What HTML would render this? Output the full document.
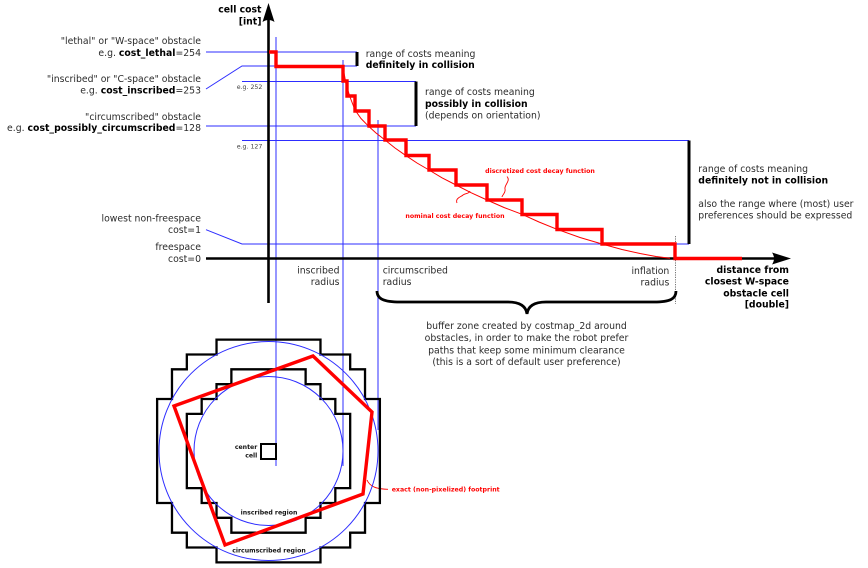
<!DOCTYPE html>
<html><head><meta charset="utf-8"><style>html,body{margin:0;padding:0;background:#fff}svg{display:block}</style></head>
<body>
<svg width="868" height="568" viewBox="0 0 868 568" xmlns="http://www.w3.org/2000/svg" font-family="'DejaVu Sans', 'Liberation Sans', sans-serif">
<rect width="868" height="568" fill="#fff"/>

<!-- blue guide lines -->
<g stroke="#2d2dff" stroke-width="1" fill="none">
  <path d="M206,52 H357"/>
  <path d="M206,89 L242,66 H357"/>
  <path d="M242,81.5 H416"/>
  <path d="M206,126 H416"/>
  <path d="M242,140.5 H689"/>
  <path d="M206,229.7 L242,244 H689"/>
  <path d="M276,37 V466"/>
  <path d="M343,60 V466"/>
  <path d="M378,120 V430"/>
</g>

<!-- brackets -->
<g stroke="#000" stroke-width="3" fill="none">
  <path d="M357,52 V66"/>
  <path d="M416,81.5 V126"/>
  <path d="M689,140.5 V244"/>
</g>

<!-- axes -->
<path d="M268.5,303 V18" stroke="#000" stroke-width="2.6" fill="none"/>
<path d="M268.5,3 L274.5,22 Q268.5,18 262.5,22 Z" fill="#000"/>
<path d="M206,258.5 H776" stroke="#000" stroke-width="2.6" fill="none"/>
<path d="M791,258.5 L772,252.5 Q776,258.5 772,264.5 Z" fill="#000"/>

<!-- dotted inflation line -->
<path d="M675.5,236 V304" stroke="#777" stroke-width="1" stroke-dasharray="1.2,1.2" fill="none"/>

<!-- nominal curve -->
<polyline points="343.5,70 346,84 350,97 355,110 361,118.5 368,125.7 376,133 385,140 395,148 406,155.7 417,163 429,170 442,177.8 456,185 471,192.7 487,200 504,207.5 522,214.3 539,222 557,229.3 580,237.5 602,244 622,249.5 640,253.5 656,256.5 670,258.3" fill="none" stroke="#ff0000" stroke-width="1"/>

<!-- discretized staircase -->
<path d="M269,52 H276 V66.5 H343 V81 H347 V96 H355 V111 H369 V126 H385 V140 H406 V155.5 H429 V170 H456 V185 H487 V200 H522 V214.5 H557 V229.5 H602 V244 H675 V258.5 H742" fill="none" stroke="#ff0000" stroke-width="3.4" stroke-linejoin="miter"/>

<!-- red leaders -->
<g stroke="#ff0000" stroke-width="0.9" fill="none">
  <path d="M507,176.5 C511,181 504,185 505,189 C506,193 502,195 502,197"/>
  <path d="M457,203 C455,198 461,197 463,195 C466,193 469,194 470,191"/>
  <path d="M367,480 C370,487 377,489 388,489.3"/>
</g>

<!-- brace -->
<path d="M377,291 C377,299 384,302 400,302 L508,302 C520,302 526,306 527,314 C528,306 534,302 546,302 L654,302 C670,302 676,299 676,291" fill="none" stroke="#000" stroke-width="2.8"/>

<!-- footprint diagram -->
<g transform="translate(268.5,451) scale(14.85)">
  <polygon points="-3.5,-7.5 3.5,-7.5 3.5,-6.5 5.5,-6.5 5.5,-5.5 6.5,-5.5 6.5,-3.5 7.5,-3.5 7.5,3.5 6.5,3.5 6.5,5.5 5.5,5.5 5.5,6.5 3.5,6.5 3.5,7.5 -3.5,7.5 -3.5,6.5 -5.5,6.5 -5.5,5.5 -6.5,5.5 -6.5,3.5 -7.5,3.5 -7.5,-3.5 -6.5,-3.5 -6.5,-5.5 -5.5,-5.5 -5.5,-6.5 -3.5,-6.5" fill="none" stroke="#000" stroke-width="2.3" vector-effect="non-scaling-stroke"/>
  <polygon points="-2.5,-5.5 2.5,-5.5 2.5,-4.5 3.5,-4.5 3.5,-3.5 4.5,-3.5 4.5,-2.5 5.5,-2.5 5.5,2.5 4.5,2.5 4.5,3.5 3.5,3.5 3.5,4.5 2.5,4.5 2.5,5.5 -2.5,5.5 -2.5,4.5 -3.5,4.5 -3.5,3.5 -4.5,3.5 -4.5,2.5 -5.5,2.5 -5.5,-2.5 -4.5,-2.5 -4.5,-3.5 -3.5,-3.5 -3.5,-4.5 -2.5,-4.5" fill="none" stroke="#000" stroke-width="2.3" vector-effect="non-scaling-stroke"/>
</g>
<rect x="261" y="444" width="15" height="15" fill="none" stroke="#000" stroke-width="2"/>
<circle cx="268.5" cy="451" r="74.5" fill="none" stroke="#2d2dff" stroke-width="1"/>
<circle cx="268.5" cy="451" r="109.5" fill="none" stroke="#2d2dff" stroke-width="1"/>
<polygon points="174,406 313,356 372,412 363,494 225,545" fill="none" stroke="#ff0000" stroke-width="3.4" stroke-linejoin="miter"/>

<!-- texts -->
<g font-size="9.3" fill="#2b2b2b">
  <text x="261.5" y="12.5" text-anchor="end" font-weight="bold" fill="#000">cell cost</text>
  <text x="261.5" y="24.5" text-anchor="end" font-weight="bold" fill="#000">[int]</text>

  <text x="201" y="44.2" text-anchor="end">"lethal" or "W-space" obstacle</text>
  <text x="201" y="55.8" text-anchor="end">e.g. <tspan font-weight="bold" fill="#000">cost_lethal</tspan>=254</text>
  <text x="201" y="82.2" text-anchor="end">"inscribed" or "C-space" obstacle</text>
  <text x="201" y="93.5" text-anchor="end">e.g. <tspan font-weight="bold" fill="#000">cost_inscribed</tspan>=253</text>
  <text x="201" y="120.2" text-anchor="end">"circumscribed" obstacle</text>
  <text x="201" y="130.8" text-anchor="end">e.g. <tspan font-weight="bold" fill="#000">cost_possibly_circumscribed</tspan>=128</text>
  <text x="201" y="221.5" text-anchor="end">lowest non-freespace</text>
  <text x="201" y="232.8" text-anchor="end">cost=1</text>
  <text x="201" y="250.2" text-anchor="end">freespace</text>
  <text x="201" y="261.8" text-anchor="end">cost=0</text>

  <text x="365.7" y="56.8">range of costs meaning</text>
  <text x="365.7" y="67.8" font-weight="bold" fill="#000">definitely in collision</text>

  <text x="425" y="95.2">range of costs meaning</text>
  <text x="425" y="106.8" font-weight="bold" fill="#000">possibly in collision</text>
  <text x="425" y="118.5">(depends on orientation)</text>

  <text x="698.3" y="171.8">range of costs meaning</text>
  <text x="698.3" y="183.5" font-weight="bold" fill="#000">definitely not in collision</text>
  <text x="698.3" y="206.8">also the range where (most) user</text>
  <text x="698.3" y="218.5">preferences should be expressed</text>

  <text x="339.5" y="273.5" text-anchor="end">inscribed</text>
  <text x="339.5" y="285.2" text-anchor="end">radius</text>
  <text x="382.7" y="273.5">circumscribed</text>
  <text x="382.7" y="285.2">radius</text>
  <text x="669.3" y="274" text-anchor="end">inflation</text>
  <text x="669.3" y="285.4" text-anchor="end">radius</text>

  <g font-weight="bold" fill="#000" text-anchor="end">
    <text x="789" y="272.8">distance from</text>
    <text x="789" y="284.6">closest W-space</text>
    <text x="789" y="296.4">obstacle cell</text>
    <text x="789" y="307.6">[double]</text>
  </g>

  <g text-anchor="middle">
    <text x="526.5" y="329.2">buffer zone created by costmap_2d around</text>
    <text x="526.5" y="341.2">obstacles, in order to make the robot prefer</text>
    <text x="526.5" y="353.4">paths that keep some minimum clearance</text>
    <text x="526.5" y="365.2">(this is a sort of default user preference)</text>
  </g>
</g>

<g font-size="6.25" fill="#444">
  <text x="236.7" y="89">e.g. 252</text>
  <text x="236.7" y="148.3">e.g. 127</text>
</g>

<g font-size="6.25" font-weight="bold" fill="#ff0000">
  <text x="540" y="173.2" text-anchor="middle">discretized cost decay function</text>
  <text x="455" y="218" text-anchor="middle">nominal cost decay function</text>
  <text x="391.7" y="491.5">exact (non-pixelized) footprint</text>
</g>

<g font-size="6.2" font-weight="bold" fill="#111">
  <text x="257.3" y="449" text-anchor="end">center</text>
  <text x="257.3" y="457.6" text-anchor="end">cell</text>
  <text x="269" y="514.6" text-anchor="middle">inscribed region</text>
  <text x="269" y="552.3" text-anchor="middle">circumscribed region</text>
</g>
</svg>
</body></html>
